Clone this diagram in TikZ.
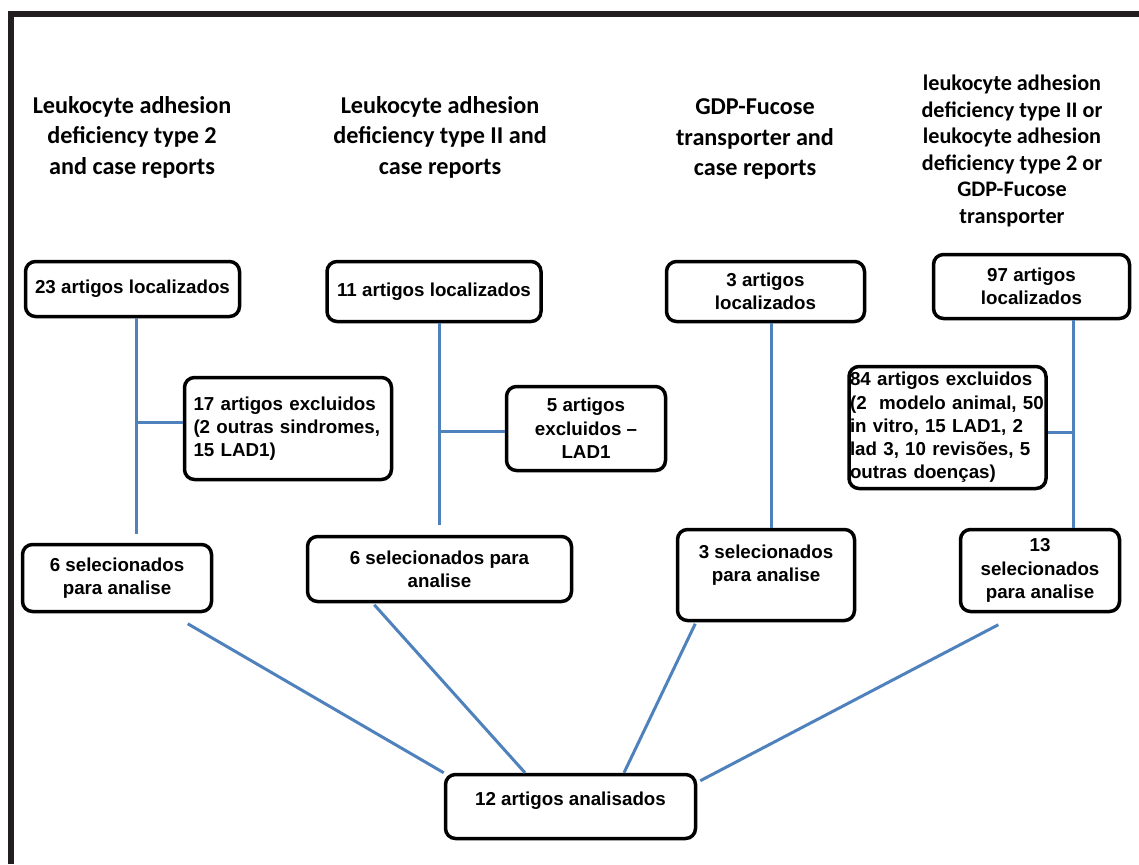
\documentclass[tikz,border=0pt]{standalone}
\usepackage{fontspec}
\usepackage{xcolor}
\usepackage{tikz}
\usetikzlibrary{calc}
\newfontfamily\boxface{Liberation Sans}
\newfontfamily\headface{Carlito}
\definecolor{linkblue}{RGB}{79,129,189}
\definecolor{framegray}{RGB}{35,31,32}
\tikzset{
  headtext/.style={
    align=center,
    inner sep=0pt,
    font=\headface\bfseries\fontsize{24.2}{30.5}\selectfont
  },
  countbox/.style={
    rectangle,
    rounded corners=10pt,
    draw=black,
    line width=3.5pt,
    fill=white,
    align=center,
    inner sep=0pt,
    font=\boxface\bfseries\fontsize{18.75}{23.3}\selectfont
  },
  link/.style={
    draw=linkblue,
    line width=3pt
  }
}

\begin{document}
\begin{tikzpicture}[x=1pt,y=-1pt]
\useasboundingbox (0,0) rectangle (1139,864);
\draw[framegray, line width=5.7pt] (11,864) -- (11,14) -- (1139,14);

% search terms
\node[headtext] (h1) at (132,137) {Leukocyte adhesion\\deficiency type 2\\and case reports};
\node[headtext] (h2) at (440,137) {Leukocyte adhesion\\deficiency type II and\\case reports};
\node[headtext] (h3) at (755,139) {GDP-Fucose\\transporter and\\case reports};
\node[headtext, font=\headface\bfseries\fontsize{22.2}{26.5}\selectfont] (h4) at (1012,151)
  {leukocyte adhesion\\deficiency type II or\\leukocyte adhesion\\deficiency type 2 or\\GDP-Fucose\\transporter};

% found
\node[countbox, minimum width=214pt, minimum height=55pt] (b1a) at (132.5,289) {23 artigos localizados};
\node[countbox, minimum width=214pt, minimum height=60pt] (b2a) at (434,291.5) {11 artigos localizados};
\node[countbox, minimum width=198pt, minimum height=60pt] (b3a) at (765.5,291.5) {3 artigos\\localizados};
\node[countbox, minimum width=196pt, minimum height=64pt] (b4a) at (1031.5,286.5) {97 artigos\\localizados};

% excluded
\node[countbox, minimum width=207pt, minimum height=102pt, text width=189pt, inner xsep=9pt, align=left] (b1c) at (288,428.5)
  {17 artigos excluidos\\(2 outras sindromes,\\15 LAD1)};
\node[countbox, minimum width=159pt, minimum height=84pt] (b2c) at (586,428.5) {5 artigos\\excluidos –\\LAD1};
\node[countbox, minimum width=197pt, minimum height=122pt, text width=195pt, align=left] (b4c) at (947.5,427.5)
  {84 artigos excluidos\\(2\ \ modelo animal, 50\\in vitro, 15 LAD1, 2\\lad 3, 10 revisões, 5\\outras doenças)};

% selected
\node[countbox, minimum width=189pt, minimum height=67pt] (b1b) at (117,578) {6 selecionados\\para analise};
\node[countbox, minimum width=264pt, minimum height=65pt] (b2b) at (439.5,569) {6 selecionados para\\analise};
\node[countbox, minimum width=177pt, minimum height=91pt] (b3b) at (766,575) {3 selecionados\\para analise\\~};
\node[countbox, minimum width=159pt, minimum height=82pt] (b4b) at (1040,570.5) {13\\selecionados\\para analise};

% analysed
\node[countbox, minimum width=250pt, minimum height=64pt] (b5) at (570.5,806.5)
  {\raisebox{6pt}[\height][\depth]{12 artigos analisados}};

% trunks
\draw[link, shorten >=8.5pt] (b1a.south) ++(4,0) coordinate (j1) -- (j1 |- b1b.north);
\draw[link, shorten >=10pt] (b2a.south) ++(5,0) coordinate (j2) -- (j2 |- b2b.north);
\draw[link] (b3a.south) ++(5.5,0) coordinate (j3) -- (j3 |- b3b.north);
\draw[link] (b4a.south) ++(42,0) coordinate (j4) -- (j4 |- b4b.north);

% branches to exclusions
\draw[link] (b1c.west) ++(0,-6) coordinate (k1) -- (k1 -| j1);
\draw[link] (b2c.west) ++(0,3) coordinate (k2) -- (k2 -| j2);
\draw[link] (b4c.east) ++(0,5) coordinate (k4) -- (k4 -| j4);

% into the final box
\draw[link] ($(b1b.south east)+(-25.5,10.5)$) -- (b5.north west);
\draw[link] ($(b2b.south west)+(68.5,1.5)$) -- ($(b5.north)+(-45.5,0)$);
\draw[link] ($(b3b.south west)+(19.5,1.5)$) -- ($(b5.north)+(53.5,0)$);
\draw[link] ($(b4b.south west)+(39.5,11.5)$) -- ($(b5.north east)+(3,8)$);
\end{tikzpicture}
\end{document}
